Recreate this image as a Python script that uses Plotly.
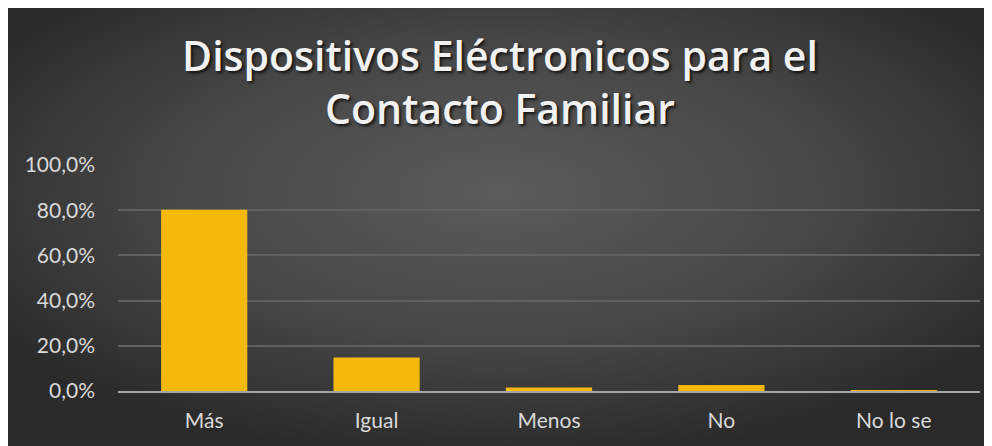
import base64
import plotly.graph_objects as go

categories = ["Más", "Igual", "Menos", "No", "No lo se"]
values = [80.2, 14.8, 1.5, 2.7, 0.3]
y_tickvals = [0, 20, 40, 60, 80, 100]
y_ticktext = ["0,0%", "20,0%", "40,0%", "60,0%", "80,0%", "100,0%"]
title_text = "Dispositivos Eléctronicos para el<br>Contacto Familiar"

W, H = 984, 438
L, R, T, B = 110, 12, 157, 55
pw, ph = W - L - R, H - T - B

svg = (
    '<svg xmlns="http://www.w3.org/2000/svg" width="984" height="438" viewBox="0 0 984 438" preserveAspectRatio="none">'
    '<defs><radialGradient id="g" cx="0.5" cy="0.42" r="0.62" gradientUnits="objectBoundingBox">'
    '<stop offset="0" stop-color="#5b5b5b"/><stop offset="0.55" stop-color="#464646"/>'
    '<stop offset="1" stop-color="#2a2a2a"/></radialGradient></defs>'
    '<rect x="0" y="0" width="984" height="438" fill="url(#g)"/></svg>'
)
src = "data:image/svg+xml;base64," + base64.b64encode(svg.encode()).decode()

fig = go.Figure(
    go.Bar(
        x=categories,
        y=values,
        marker=dict(color="#F4B90A", line=dict(width=0)),
        hoverinfo="skip",
    )
)

fig.update_layout(
    width=W,
    height=H,
    autosize=False,
    margin=dict(l=L, r=R, t=T, b=B, pad=0),
    paper_bgcolor="#2e2e2e",
    plot_bgcolor="rgba(0,0,0,0)",
    bargap=0.5,
    showlegend=False,
    images=[dict(
        source=src, xref="paper", yref="paper",
        x=-L / pw, y=1 + T / ph, sizex=W / pw, sizey=H / ph,
        sizing="stretch", layer="below", xanchor="left", yanchor="top",
    )],
    title=dict(
        text=title_text,
        x=0.5, xanchor="center",
        xref="container", yref="container",
        y=1 - 63 / H, yanchor="middle",
        font=dict(family="Open Sans", size=41, weight=600, color="#f2f2f2",
                  shadow="2px 2px 3px rgba(0,0,0,0.75)"),
    ),
    font=dict(family="Lato", color="#d9d9d9", size=21),
)

fig.update_yaxes(
    range=[0, 100],
    tickvals=y_tickvals,
    ticktext=y_ticktext,
    showgrid=True, gridcolor="#616161", gridwidth=2,
    zeroline=False, showline=False, ticks="",
    ticklabelstandoff=22,
    tickfont=dict(size=21, color="#d9d9d9"),
)
fig.update_xaxes(
    showline=True, linecolor="#a6a6a6", linewidth=2,
    ticks="", showgrid=False,
    tickfont=dict(size=21, color="#d9d9d9"),
    ticklabelstandoff=10,
)

fig.write_html("out.html")
